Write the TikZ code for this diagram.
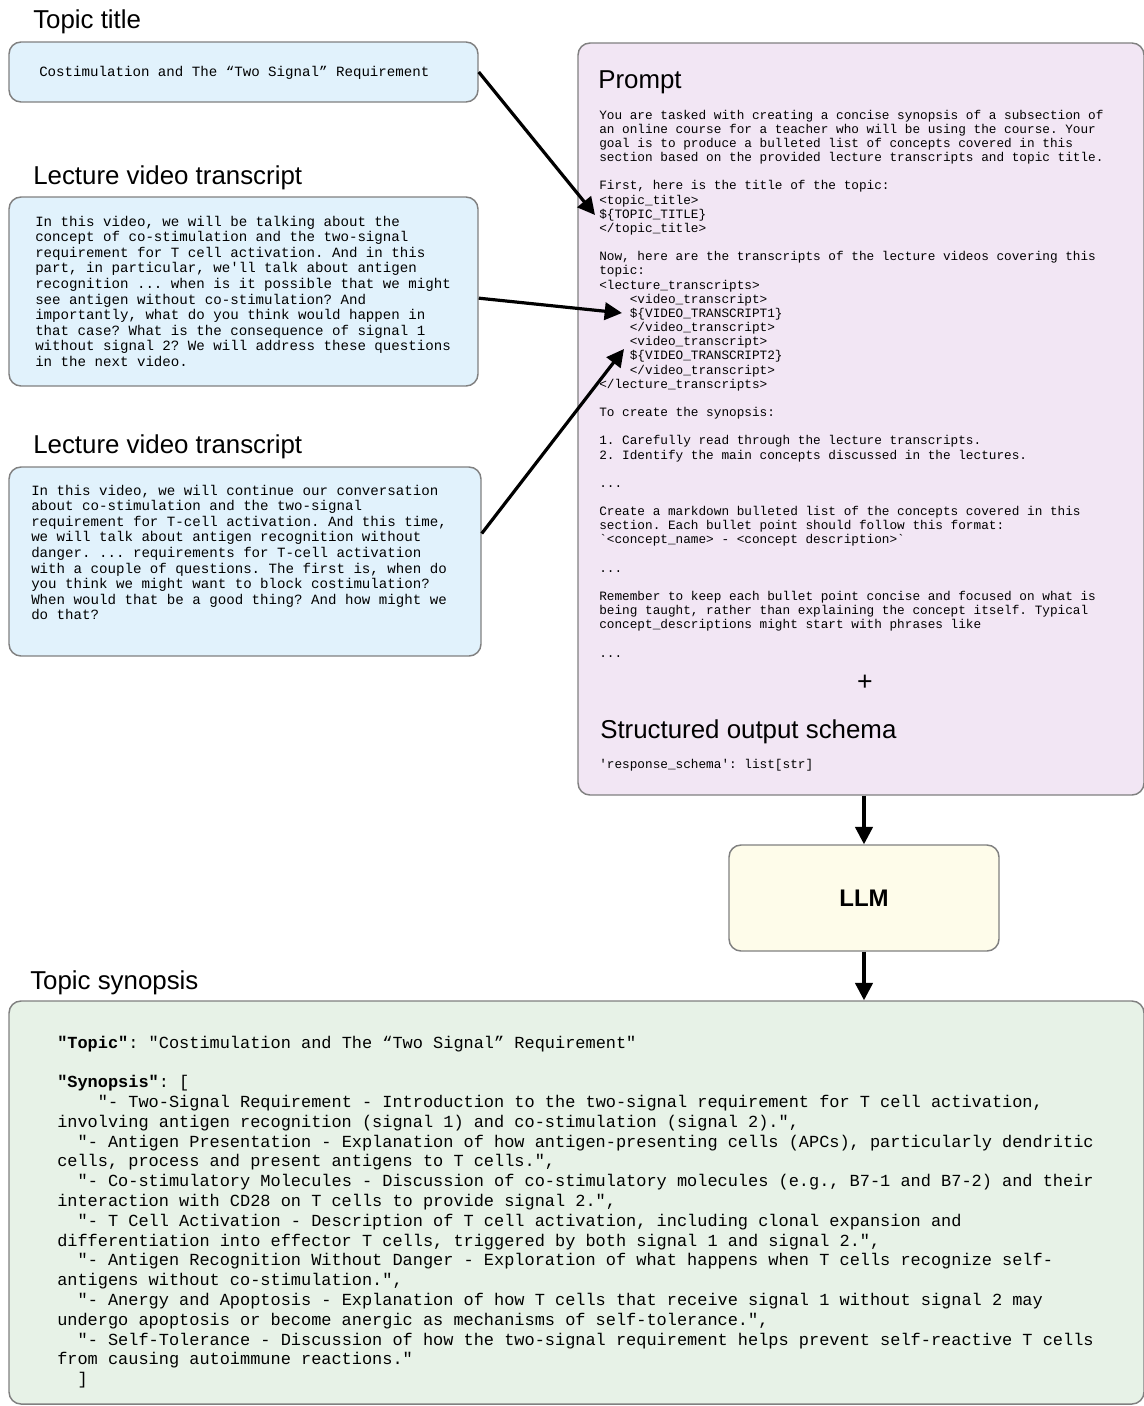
\documentclass[tikz,border=0pt]{standalone}
\usepackage{fontspec}
\setmonofont{Liberation Mono}
\newfontfamily\headfont{Liberation Sans}
\usetikzlibrary{arrows.meta}
\definecolor{titleblue}{HTML}{E1F2FC}
\definecolor{promptlilac}{HTML}{F2E6F4}
\definecolor{llmcream}{HTML}{FEFCEA}
\definecolor{synmint}{HTML}{E7F2E7}
\definecolor{edgegray}{HTML}{808080}

\begin{document}
\begin{tikzpicture}[x=0.75pt,y=-0.75pt,
  box node/.style={draw=edgegray,line width=1.1pt,rounded corners=9pt,inner sep=0},
  head node/.style={font=\headfont\fontsize{19.4}{23}\selectfont,anchor=base west,inner sep=0},
  code node/.style={font=\ttfamily\fontsize{10.6}{11.7}\selectfont,align=left,anchor=north west,inner sep=0},
  prompt code/.style={code node,font=\ttfamily\fontsize{9.55}{10.62}\selectfont},
  synopsis code/.style={code node,font=\ttfamily\fontsize{12.7}{14.85}\selectfont},
  arrow/.style={-{Triangle[length=13pt,width=13pt]},line width=2.4pt}]

  \useasboundingbox (0,0) rectangle (1143,1406);

  % inputs
  \node[head node] (title head) at (33,28) {Topic title};
  \node[box node,fill=titleblue,minimum width=351.75pt,minimum height=45pt] (title) at (243.5,72) {};
  \node[code node,anchor=base west] (title text) at (39,76) {Costimulation and The “Two Signal” Requirement};

  \node[head node] (lecture head 1) at (33,184) {Lecture video transcript};
  \node[box node,fill=titleblue,minimum width=351.75pt,minimum height=141.75pt] (lecture 1) at (243.5,291.5) {};
  \node[code node] (lecture text 1) at (35,215) {\strut In this video, we will be talking about the\\
concept of co-stimulation and the two-signal\\
requirement for T cell activation. And in this\\
part, in particular, we'll talk about antigen\\
recognition ... when is it possible that we might\\
see antigen without co-stimulation? And\\
importantly, what do you think would happen in\\
that case? What is the consequence of signal 1\\
without signal 2? We will address these questions\\
in the next video.};

  \node[head node] (lecture head 2) at (33,453) {Lecture video transcript};
  \node[box node,fill=titleblue,minimum width=354pt,minimum height=141.75pt] (lecture 2) at (245,561.5) {};
  \node[code node] (lecture text 2) at (31,484) {\strut In this video, we will continue our conversation\\
about co-stimulation and the two-signal\\
requirement for T-cell activation. And this time,\\
we will talk about antigen recognition without\\
danger. ... requirements for T-cell activation\\
with a couple of questions. The first is, when do\\
you think we might want to block costimulation?\\
When would that be a good thing? And how might we\\
do that?};

  % prompt
  \node[box node,fill=promptlilac,minimum width=424.5pt,minimum height=564pt] (prompt) at (861,419) {};
  \node[head node] (prompt head) at (598,88) {Prompt};
  \node[prompt code] (prompt text) at (599,109) {\strut You are tasked with creating a concise synopsis of a subsection of\\
an online course for a teacher who will be using the course. Your\\
goal is to produce a bulleted list of concepts covered in this\\
section based on the provided lecture transcripts and topic title.\\
\strut\\
First, here is the title of the topic:\\
<topic\_title>\\
\$\{TOPIC\_TITLE\}\\
</topic\_title>\\
\strut\\
Now, here are the transcripts of the lecture videos covering this\\
topic:\\
<lecture\_transcripts>\\
\ \ \ \ <video\_transcript>\\
\ \ \ \ \$\{VIDEO\_TRANSCRIPT1\}\\
\ \ \ \ </video\_transcript>\\
\ \ \ \ <video\_transcript>\\
\ \ \ \ \$\{VIDEO\_TRANSCRIPT2\}\\
\ \ \ \ </video\_transcript>\\
</lecture\_transcripts>\\
\strut\\
To create the synopsis:\\
\strut\\
1. Carefully read through the lecture transcripts.\\
2. Identify the main concepts discussed in the lectures.\\
\strut\\
...\\
\strut\\
Create a markdown bulleted list of the concepts covered in this\\
section. Each bullet point should follow this format:\\
`<concept\_name> - <concept description>`\\
\strut\\
...\\
\strut\\
Remember to keep each bullet point concise and focused on what is\\
being taught, rather than explaining the concept itself. Typical\\
concept\_descriptions might start with phrases like\\
\strut\\
...};
  \node[font=\headfont\fontsize{20}{24}\selectfont] (plus) at (865,683) {+};
  \node[head node] (schema head) at (600,738) {Structured output schema};
  \node[prompt code,anchor=base west] (schema text) at (599,768) {'response\_schema': list[str]};

  % model
  \node[box node,fill=llmcream,minimum width=202.5pt,minimum height=79.5pt,
    font=\headfont\bfseries\fontsize{18}{22}\selectfont] (llm) at (864,898) {LLM};

  % output
  \node[head node] (synopsis head) at (30,989) {Topic synopsis};
  \node[box node,fill=synmint,minimum width=851.25pt,minimum height=302.25pt] (synopsis) at (576.5,1202.5) {};
  \node[synopsis code] (synopsis text) at (57,1034) {\strut\textbf{"Topic"}: "Costimulation and The “Two Signal” Requirement"\\
\strut\\
\textbf{"Synopsis"}: [\\
\ \ \ \ "- Two-Signal Requirement - Introduction to the two-signal requirement for T cell activation,\\
involving antigen recognition (signal 1) and co-stimulation (signal 2).",\\
\ \ "- Antigen Presentation - Explanation of how antigen-presenting cells (APCs), particularly dendritic\\
cells, process and present antigens to T cells.",\\
\ \ "- Co-stimulatory Molecules - Discussion of co-stimulatory molecules (e.g., B7-1 and B7-2) and their\\
interaction with CD28 on T cells to provide signal 2.",\\
\ \ "- T Cell Activation - Description of T cell activation, including clonal expansion and\\
differentiation into effector T cells, triggered by both signal 1 and signal 2.",\\
\ \ "- Antigen Recognition Without Danger - Exploration of what happens when T cells recognize self-\\
antigens without co-stimulation.",\\
\ \ "- Anergy and Apoptosis - Explanation of how T cells that receive signal 1 without signal 2 may\\
undergo apoptosis or become anergic as mechanisms of self-tolerance.",\\
\ \ "- Self-Tolerance - Discussion of how the two-signal requirement helps prevent self-reactive T cells\\
from causing autoimmune reactions."\\
\ \ ]};

  % connectors
  \coordinate (title slot) at (595,215);
  \coordinate (lecture slot 1) at (622,313);
  \coordinate (lecture slot 2) at (624,349);

  \draw[arrow] (title.east) -- (title slot);
  \draw[arrow] ([yshift=-5pt]lecture 1.east) -- (lecture slot 1);
  \draw[arrow] ([yshift=21pt]lecture 2.east) -- (lecture slot 2);
  \draw[arrow] (prompt.south -| llm.north) -- (llm.north);
  \draw[arrow] (llm.south) -- (synopsis.north -| llm.south);
\end{tikzpicture}
\end{document}
